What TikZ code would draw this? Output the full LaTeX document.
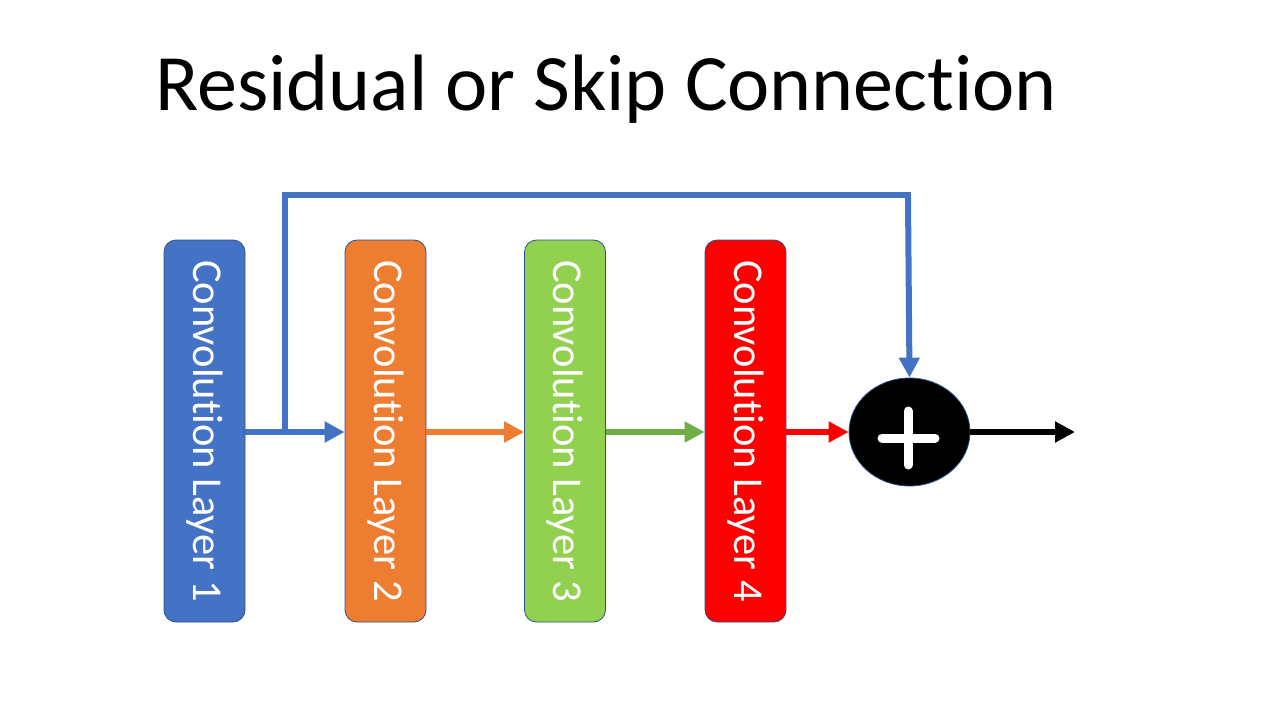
\documentclass[tikz,border=0pt]{standalone}
\usepackage{fontspec}
\setmainfont{Carlito}[Ligatures=NoCommon]
\usetikzlibrary{arrows.meta,shapes.geometric}
\definecolor{cblue}{HTML}{4472C4}
\definecolor{corange}{HTML}{ED7D31}
\definecolor{cgreen}{HTML}{92D050}
\definecolor{cgreenarrow}{HTML}{70AD47}
\definecolor{cred}{HTML}{FF0000}
\definecolor{cborder}{HTML}{2F528F}
\tikzset{
  layerbox/.style={draw=cborder, line width=0.8pt, rounded corners=12pt,
    minimum width=81pt, minimum height=382pt, inner sep=0pt},
  layertext/.style={text=white, rotate=-90, font=\fontsize{42.5}{42.5}\selectfont},
  conn/.style={line width=6pt, -{Triangle[length=20pt,width=20pt]}},
}
\begin{document}
\begin{tikzpicture}[x=1pt,y=-1pt]
\useasboundingbox (0,0) rectangle (1280,720);
\fill[white] (0,0) rectangle (1280,720);
\node[anchor=base west, inner sep=0pt, font=\fontsize{80}{80}\selectfont] (title) at (155,110) {Residual or Skip Connection};

\node[layerbox, fill=cblue] (L1) at (204.5,431) {};
\node[layerbox, fill=corange] (L2) at (385.5,431) {};
\node[layerbox, fill=cgreen] (L3) at (565,431) {};
\node[layerbox, fill=cred] (L4) at (745.5,431) {};
\node[layertext] (T1) at (L1.center) {Convolution Layer 1};
\node[layertext] (T2) at (L2.center) {Convolution Layer 2};
\node[layertext] (T3) at (L3.center) {Convolution Layer 3};
\node[layertext] (T4) at (L4.center) {Convolution Layer 4};

\node[ellipse, draw=cborder, line width=0.8pt, fill=black, minimum width=121pt, minimum height=108pt, inner sep=0pt] (sum) at (909.5,432) {};
\draw[white, line width=9pt, line cap=round] (882,438) -- (935,438);
\draw[white, line width=9pt, line cap=round] (908,411) -- (908,465);

\coordinate (split) at (285,432);
\coordinate (out) at (1075,432);
\coordinate (tl) at (285,195);
\coordinate (tr) at (908,195);

\draw[conn, cblue] (L1.east |- split) -- (L2.west |- split);
\draw[cblue, line width=6pt] (split) -- (tl) -- (tr) -- ([yshift=-4pt]tr);
\draw[conn, cblue] ([yshift=-3pt]tr) -- (sum.north);
\draw[conn, corange] (L2.east |- split) -- (L3.west |- split);
\draw[conn, cgreenarrow] (L3.east |- split) -- (L4.west |- split);
\draw[conn, cred] (L4.east |- split) -- (sum.west);
\draw[conn, black] (sum.east) -- (out);
\end{tikzpicture}
\end{document}
